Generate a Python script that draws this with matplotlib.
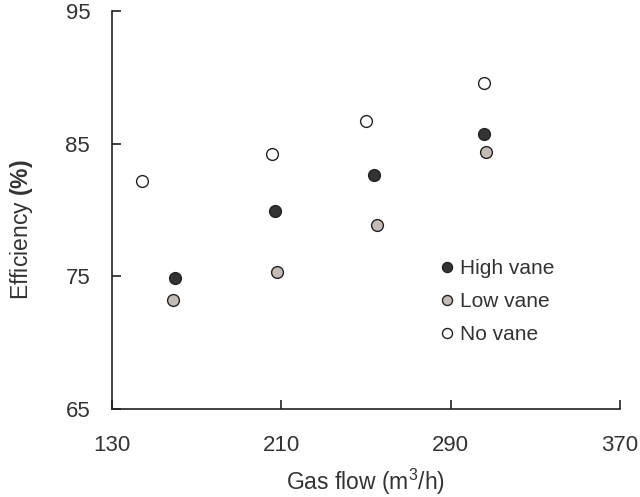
import matplotlib
matplotlib.use('Agg')
import matplotlib.pyplot as plt

plt.rcParams['font.family'] = ['Liberation Sans', 'DejaVu Sans']
plt.rcParams['mathtext.fontset'] = 'custom'
plt.rcParams['mathtext.rm'] = 'Liberation Sans'
plt.rcParams['mathtext.bf'] = 'Liberation Sans:bold'

# data
high_x = [159.9, 207.1, 253.6, 305.8]
high_y = [74.9, 79.9, 82.6, 85.7]
low_x = [159.1, 207.9, 255.1, 306.6]
low_y = [73.2, 75.3, 78.9, 84.4]
no_x = [144.4, 205.6, 250.1, 305.8]
no_y = [82.2, 84.2, 86.7, 89.6]
x_ticks = [130, 210, 290, 370]
y_ticks = [65, 75, 85, 95]

txt = '#333333'
edge = '#222222'

fig = plt.figure(figsize=(6.4, 4.97), dpi=100)
ax = fig.add_axes([0.1745, 0.177, 0.7945, 0.801])

ax.plot(high_x, high_y, 'o', ms=8.5, mfc='#333333', mec=edge, mew=1, label='High vane')
ax.plot(low_x, low_y, 'o', ms=8.5, mfc='#c2bbb8', mec=edge, mew=1, label='Low vane')
ax.plot(no_x, no_y, 'o', ms=8.5, mfc='white', mec=edge, mew=1, label='No vane')

ax.set_xlim(130, 370)
ax.set_ylim(65, 95)
ax.set_xticks(x_ticks)
ax.set_yticks(y_ticks)
for s in ['top', 'right']:
    ax.spines[s].set_visible(False)
for s in ['left', 'bottom']:
    ax.spines[s].set_linewidth(1.2)
    ax.spines[s].set_color(edge)
ax.tick_params(direction='in', length=6.5, width=1.2, color=edge, labelsize=16, labelcolor=txt)
ax.tick_params(axis='y', pad=15.5)
ax.tick_params(axis='x', pad=19)

ax.set_xlabel('Gas flow (m$^3$/h)', fontsize=16.5, color=txt)
ax.xaxis.set_label_coords(0.5, -0.145)
ax.set_ylabel(r'Efficiency $\mathbf{(\%)}$', fontsize=16.5, color=txt)
ax.yaxis.set_label_coords(-0.15, 0.45)

ax.legend(loc='upper left', bbox_to_anchor=(0.61, 0.424), frameon=False, markerscale=0.85,
          handlelength=0.6, handletextpad=0.35, labelspacing=0.67, fontsize=15, labelcolor=txt)

fig.savefig('out.png', dpi=100)
